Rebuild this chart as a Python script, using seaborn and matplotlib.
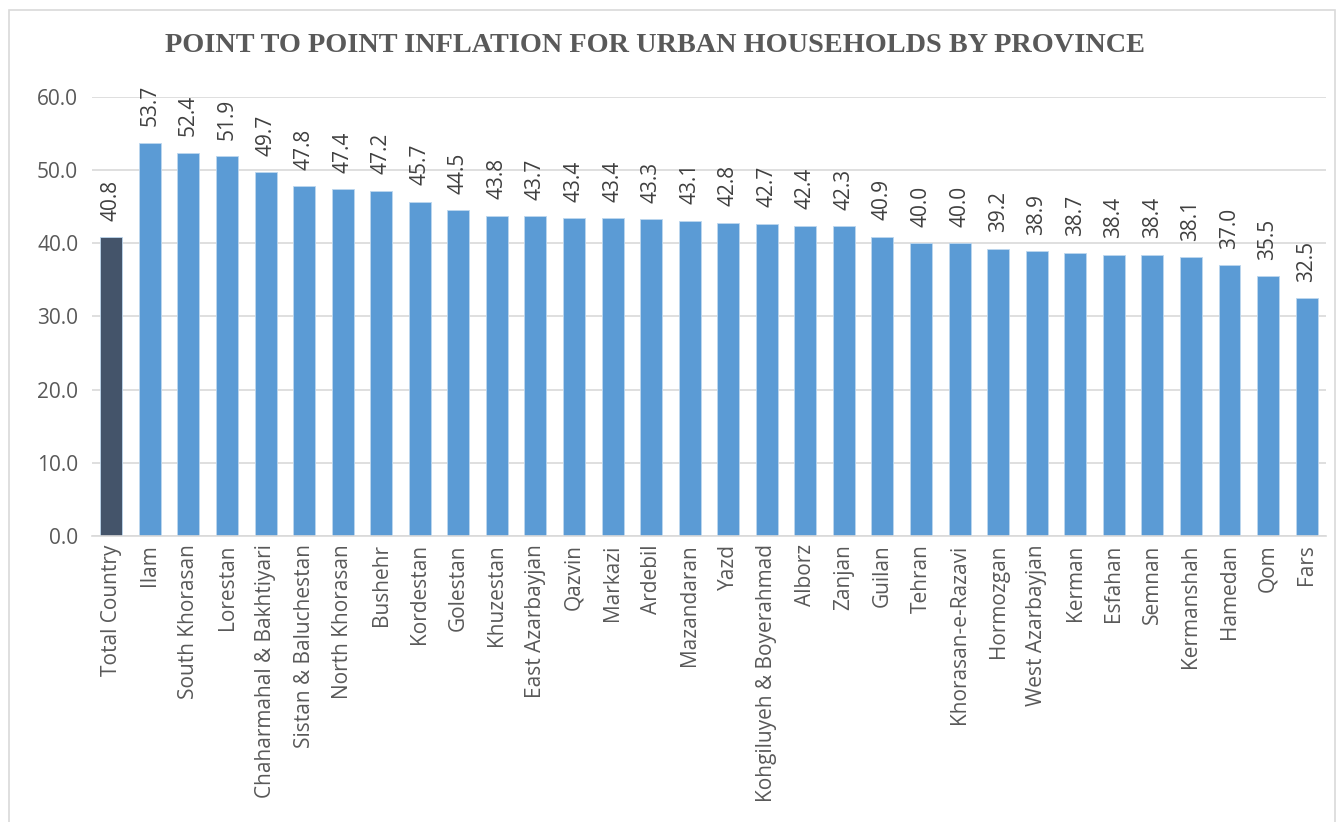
import pandas as pd
import matplotlib.pyplot as plt
import seaborn as sns
from matplotlib.patches import Rectangle

provinces = ["Total Country", "Ilam", "South Khorasan", "Lorestan", "Chaharmahal & Bakhtiyari",
             "Sistan & Baluchestan", "North Khorasan", "Bushehr", "Kordestan", "Golestan",
             "Khuzestan", "East Azarbayjan", "Qazvin", "Markazi", "Ardebil", "Mazandaran",
             "Yazd", "Kohgiluyeh & Boyerahmad", "Alborz", "Zanjan", "Guilan", "Tehran",
             "Khorasan-e-Razavi", "Hormozgan", "West Azarbayjan", "Kerman", "Esfahan",
             "Semnan", "Kermanshah", "Hamedan", "Qom", "Fars"]
inflation = [40.8, 53.7, 52.4, 51.9, 49.7, 47.8, 47.4, 47.2, 45.7, 44.5, 43.8, 43.7,
             43.4, 43.4, 43.3, 43.1, 42.8, 42.7, 42.4, 42.3, 40.9, 40.0, 40.0, 39.2,
             38.9, 38.7, 38.4, 38.4, 38.1, 37.0, 35.5, 32.5]
group = ["total"] + ["province"] * (len(provinces) - 1)

df = pd.DataFrame({"Province": provinces, "Inflation": inflation, "Group": group})

sns.set_style("white")
plt.rcParams['font.family'] = ['Open Sans', 'DejaVu Sans']

fig = plt.figure(figsize=(13.42, 8.22), dpi=100)
ax = fig.add_axes([0.0686, 0.348, 0.9194, 0.534])

sns.barplot(data=df, x="Province", y="Inflation", hue="Group",
            palette={"total": "#44546a", "province": "#5b9bd5"}, saturation=1,
            width=0.57, edgecolor="#bdd7ee", linewidth=0.6, legend=False, ax=ax)

for cont in ax.containers:
    ax.bar_label(cont, fmt="%.1f", rotation=90, padding=12, fontsize=15, color="#404040")

ax.set_ylim(0, 60)
ax.set_yticks(range(0, 61, 10))
ax.set_yticklabels([f"{v:.1f}" for v in range(0, 61, 10)])
ax.yaxis.grid(True, color="#d9d9d9", linewidth=1.2)
ax.set_axisbelow(True)
ax.set_xlim(-0.5, len(provinces) - 0.5)
for s in ["top", "right", "left"]:
    ax.spines[s].set_visible(False)
ax.spines["bottom"].set_color("#d9d9d9")
ax.spines["bottom"].set_linewidth(1.2)
ax.tick_params(axis="both", length=0, labelsize=15, labelcolor="#595959")
ax.tick_params(axis="y", pad=10)
ax.tick_params(axis="x", pad=6)
plt.setp(ax.get_xticklabels(), rotation=90)
ax.set_xlabel("")
ax.set_ylabel("")

fig.text(0.488, 0.945, "POINT TO POINT INFLATION FOR URBAN HOUSEHOLDS BY PROVINCE",
         ha="center", va="center", fontsize=20.3, fontweight="bold",
         family="Liberation Serif", color="#595959")

fig.patches.append(Rectangle((9 / 1342, -0.01), (1335 - 9) / 1342, 1 - 10 / 822 + 0.01,
                             transform=fig.transFigure, fill=False,
                             edgecolor="#d9d9d9", linewidth=1.2))

fig.savefig("out.png", dpi=100)
